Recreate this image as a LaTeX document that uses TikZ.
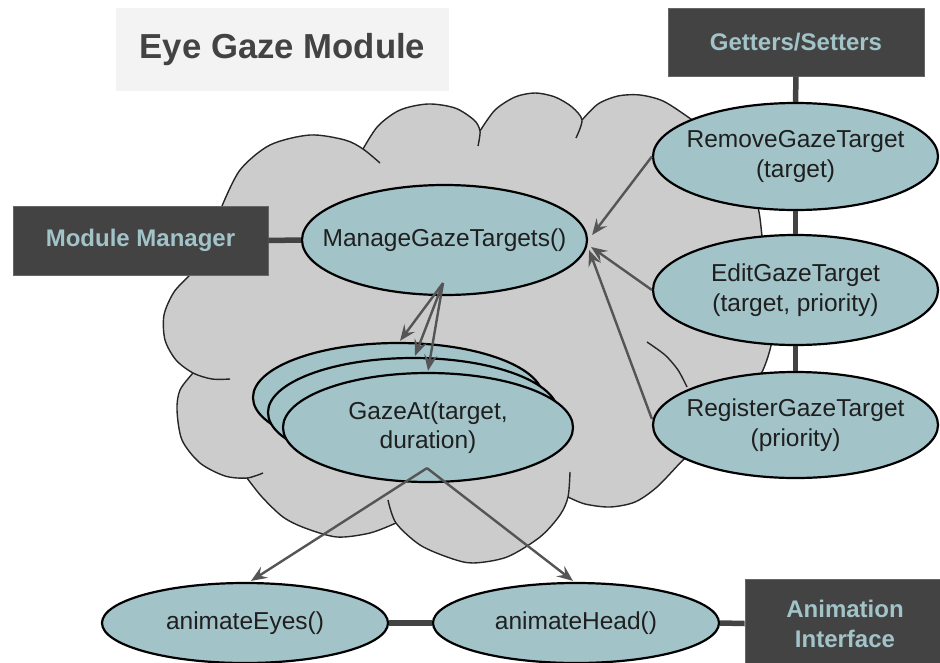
\documentclass[tikz,border=0pt]{standalone}
\usepackage{fontspec}
\setmainfont{Liberation Sans}
\usetikzlibrary{shapes.geometric,arrows.meta,calc}

\definecolor{bubble}{HTML}{A2C4C9}
\definecolor{slate}{HTML}{434343}
\definecolor{slateedge}{HTML}{666666}
\definecolor{cloudgray}{HTML}{CCCCCC}
\definecolor{cloudline}{HTML}{262626}
\definecolor{titlebg}{HTML}{F3F3F3}
\definecolor{flowgray}{HTML}{555555}
\definecolor{ink}{HTML}{1F1F1F}

\tikzset{
  fn/.style={ellipse, draw=black, line width=2.2pt, fill=bubble,
    inner xsep=-50pt, inner ysep=-10pt, align=center, text=ink,
    font=\fontsize{24.5}{29.5}\selectfont},
  stackfn/.style={fn, minimum width=290pt, minimum height=109pt},
  sidefn/.style={fn, minimum width=285pt},
  lowfn/.style={fn, minimum width=286pt, minimum height=80pt},
  slatebox/.style={rectangle, fill=slate, draw=slateedge, line width=0.8pt,
    text=bubble, align=center, inner sep=0pt,
    font=\bfseries\fontsize{24}{30}\selectfont},
  wire/.style={line width=5.5pt, draw=slate},
  flow/.style={line width=2.4pt, draw=flowgray,
    -{Stealth[length=16pt,width=13pt,inset=6pt]}},
  cloudedge/.style={draw=cloudline, line width=1.4pt},
}

\begin{document}
\begin{tikzpicture}[x=1pt,y=-1pt]
\useasboundingbox (0,0) rectangle (940,662);
\clip (0,0) rectangle (940,662);

% ---- the cloud that holds the module ----
\fill[cloudgray]
  plot[smooth] coordinates {(222,206) (240,170) (270,145) (310,135) (345,140) (363,149)}
  -- plot[smooth] coordinates {(363,149) (378,126) (400,110) (428,104) (455,108) (474,120) (480,131)}
  -- plot[smooth] coordinates {(480,131) (495,110) (515,97) (535,93) (555,97) (572,107) (582,120)}
  -- plot[smooth] coordinates {(582,120) (598,104) (618,96) (640,95) (663,101) (688,117) (712,135) (735,160)}
  -- plot[smooth] coordinates {(735,160) (752,185) (759,212) (762,236) (766,270) (771,310) (772,340) (763,370) (745,400)}
  -- plot[smooth] coordinates {(745,400) (720,425) (700,445) (683,460) (657,487) (635,502) (610,507) (585,504) (568,497)}
  -- plot[smooth] coordinates {(568,497) (560,515) (540,537) (507,557) (473,563) (450,558) (420,545) (396,523)}
  -- plot[smooth] coordinates {(396,523) (370,533) (337,537) (305,528) (283,517) (262,497) (247,478)}
  -- plot[smooth] coordinates {(247,478) (225,476) (200,463) (182,440) (177,410) (180,390) (193,373)}
  -- plot[smooth] coordinates {(193,373) (176,360) (165,340) (164,315) (174,292) (190,275)}
  -- cycle;

\draw[cloudedge] plot[smooth] coordinates {(222,206) (240,170) (270,145) (310,135) (345,140) (363,149) (380,163)};
\draw[cloudedge] plot[smooth] coordinates {(363,149) (378,126) (400,110) (428,104) (455,108) (474,120) (480,131) (478,146)};
\draw[cloudedge] plot[smooth] coordinates {(480,131) (495,110) (515,97) (535,93) (555,97) (572,107) (582,120) (576,138)};
\draw[cloudedge] plot[smooth] coordinates {(582,120) (598,104) (618,96) (640,95) (663,101) (688,117) (712,135) (735,160)};
\draw[cloudedge] plot[smooth] coordinates {(735,160) (752,185) (759,212) (762,236) (766,270) (771,310) (772,340) (763,370) (745,400)};
\draw[cloudedge] plot[smooth] coordinates {(745,400) (720,425) (700,445) (683,460) (657,487) (635,502) (610,507) (585,504) (568,497)};
\draw[cloudedge] plot[smooth] coordinates {(570,472) (568,497) (560,515) (540,537) (507,557) (473,563) (450,558) (420,545) (396,523) (388,500)};
\draw[cloudedge] plot[smooth] coordinates {(396,523) (370,533) (337,537) (305,528) (283,517) (262,497) (247,478)};
\draw[cloudedge] plot[smooth] coordinates {(193,373) (180,390) (177,410) (182,440) (200,463) (225,476) (247,478) (263,473)};
\draw[cloudedge] plot[smooth] coordinates {(190,275) (174,292) (164,315) (165,340) (176,360) (193,373) (212,379) (230,379)};
\draw[cloudedge] plot[smooth] coordinates {(647,342) (665,355) (678,370) (687,387)};

% ---- title and interface boxes ----
\node[rectangle, fill=titlebg, minimum width=333pt, minimum height=83pt, inner sep=0pt,
      text=slate, font=\bfseries\fontsize{34.7}{40}\selectfont] (title) at (282.5,49.5) {Eye Gaze Module};
\node[slatebox, minimum width=256pt, minimum height=68pt] (getters) at (796,42) {Getters/Setters};
\node[slatebox, minimum width=255pt, minimum height=69pt] (mm) at (140.5,240.5) {Module Manager};
\node[slatebox, minimum width=200pt, minimum height=89pt] (anim) at (845,623.5) {Animation\\Interface};

% ---- functions ----
\node[sidefn, minimum height=110pt] (manage) at (444.5,240) {ManageGazeTargets()};
\node[sidefn, minimum height=107pt] (remove) at (795.5,156.5) {RemoveGazeTarget\\(target)};
\node[sidefn, minimum height=110pt] (edit) at (795.5,290) {EditGazeTarget\\(target, priority)};
\node[sidefn, minimum height=106pt] (register) at (795.5,425) {RegisterGazeTarget\\(priority)};

\node[stackfn] (gazeback) at (398,397.5) {};
\node[stackfn] (gazemid) at (413,412.5) {};
\node[stackfn] (gazeat) at (428,427.5) {GazeAt(target,\\duration)};

\node[lowfn] (eyes) at (245,623) {animateEyes()};
\node[lowfn] (head) at (576,623) {animateHead()};

% ---- fixed links ----
\draw[wire] (mm.east) -- (manage.west);
\draw[wire] (getters.south) -- (remove.north);
\draw[wire] (remove.south) -- (edit.north);
\draw[wire] (edit.south) -- (register.north);
\draw[wire] (eyes.east) -- (head.west);
\draw[wire] (head.east) -- (anim.west);

% ---- calls ----
\draw[flow] (remove.west) -- ($(manage.east)+(4,-5)$);
\draw[flow] (edit.west) -- ($(manage.east)+(3,7)$);
\draw[flow] ($(register.west)+(0,-6)$) -- ($(manage.east)+(1,10)$);

\coordinate (fan) at ($(manage.south)+(-1.5,-13)$);
\draw[flow] (fan) -- ($(gazeback.north)+(2,-1)$);
\draw[flow] (fan) -- ($(gazemid.north)+(2,-1)$);
\draw[flow] (fan) -- ($(gazeat.north)+(0,-1)$);

\coordinate (split) at ($(gazeat.south)+(-1,-15)$);
\draw[flow] (split) -- ($(eyes.north)+(6,-1)$);
\draw[flow] (split) -- ($(head.north)+(-3,-1)$);
\end{tikzpicture}
\end{document}
